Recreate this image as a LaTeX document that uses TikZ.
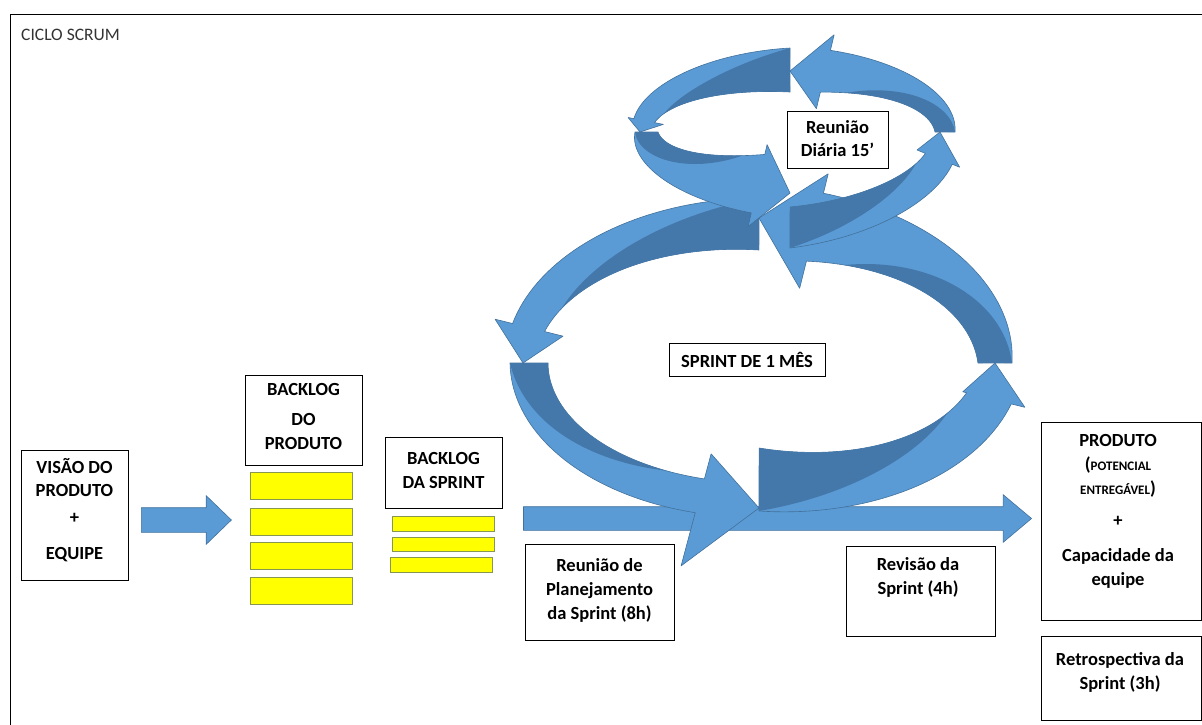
\documentclass[tikz,border=0pt]{standalone}
\usepackage{fontspec}
\setmainfont{Carlito}
\usetikzlibrary{shapes.arrows}
\definecolor{arrlightc}{RGB}{91,155,213}
\definecolor{arrdarkc}{RGB}{69,120,170}
\definecolor{arrline}{RGB}{65,113,156}
\definecolor{yel}{RGB}{255,255,0}
\definecolor{yelline}{RGB}{135,150,80}
\tikzset{
  arrlight/.style={fill=arrlightc, draw=arrline, line width=0.6pt, line join=round},
  arrdark/.style={fill=arrdarkc},
  box/.style={draw=black, line width=0.9pt, fill=white, inner sep=0pt},
  txt/.style={font=\bfseries\fontsize{18.5}{24}\selectfont, align=center, inner sep=0pt},
  ybox/.style={fill=yel, draw=yelline, line width=0.8pt, inner sep=0pt},
  blockarrow/.style={single arrow, fill=arrlightc, draw=arrline, line width=0.6pt,
    inner xsep=0pt, single arrow head indent=0pt}
}
\def\cDT{0.85}
\newcommand\CurvArrow[9]{%
  \def\cTa{#1}\def\cTb{#2}\def\cTc{#3}\def\cOa{#4}\def\cIa{#5}\def\cOb{#6}\def\cIb{#7}\def\cHw{#8}\def\cHc{#9}%
  \filldraw[arrlight]
    plot[domain=0:1,samples=40,variable=\x] ({elx(angt(\x),offo(\x))},{ely(angt(\x),offo(\x))})
    -- ({elx(\cTb,(\cHc)+(\cHw))},{ely(\cTb,(\cHc)+(\cHw))})
    -- ({elx(\cTc,0)},{ely(\cTc,0)})
    -- ({elx(\cTb,(\cHc)-(\cHw))},{ely(\cTb,(\cHc)-(\cHw))})
    -- plot[domain=0:1,samples=40,variable=\x] ({elx(angt(1-\x),offi(1-\x))},{ely(angt(1-\x),offi(1-\x))})
    -- cycle;
  \fill[arrdark]
    plot[domain=0:\cDT,samples=36,variable=\x] ({elx(angt(\x),offi(\x))},{ely(angt(\x),offi(\x))})
    -- plot[domain=0:\cDT,samples=36,variable=\x] ({elx(angt(\cDT-\x),offd(\cDT-\x))},{ely(angt(\cDT-\x),offd(\cDT-\x))})
    -- cycle;
}
\begin{document}
\begin{tikzpicture}[x=1pt,y=-1pt,
  declare function={
    angt(\qt)=(\cTa)+((\cTb)-(\cTa))*\qt;
    offo(\qt)=(\cOa)+((\cOb)-(\cOa))*\qt;
    offi(\qt)=(\cIa)+((\cIb)-(\cIa))*\qt;
    offd(\qt)=offo(\qt)+(offi(\qt)-offo(\qt))*\qt/\cDT;
    elx(\qa,\qo)=\Ecx+(\Erx+\qo)*cos(\qa);
    ely(\qa,\qo)=\Ecy+(\Ery+\qo)*sin(\qa);
  }]
\useasboundingbox (0,0) rectangle (1202,724);
\clip (0,0) rectangle (1202,724);
\fill[white] (0,0) rectangle (1202,724);
\draw[line width=1pt] (10,14) rectangle (1220,740);

\node[anchor=west, inner sep=0pt, text=black!80, font=\fontsize{17.5}{20}\selectfont] (title) at (21,35) {CICLO SCRUM};

% long horizontal arrow
\node[blockarrow, inner ysep=11.5pt, minimum height=508pt, single arrow head extend=12pt,
  single arrow tip angle=80] (longarrow) at (770.5,518.5) {};

% big sprint cycle
\def\Ecx{759}\def\Ecy{363}\def\Erx{236}\def\Ery{145}
\CurvArrow{360}{284}{270}{17}{-17}{30}{-40}{59}{-9}
\CurvArrow{90}{14}{0}{3}{-60}{24}{-22}{32}{6}
\CurvArrow{180}{105}{90}{13}{-25}{10}{-25}{58}{7}
\CurvArrow{270}{194}{180}{20}{-32}{18}{-15}{35}{1}

% small daily cycle
\def\Ecx{790}\def\Ecy{132}\def\Erx{150}\def\Ery{61}
\CurvArrow{360}{283.5}{270}{15}{-5}{23}{-20}{38}{1}
\CurvArrow{90}{22}{0}{55}{14}{25}{-4}{23}{10}
\CurvArrow{270}{191}{180}{23}{-21}{9}{-12}{18}{-3}
\CurvArrow{180}{103}{90}{5}{-18}{22}{-38}{42}{-6}

% left block arrow
\node[blockarrow, inner ysep=12pt, minimum height=90pt, single arrow head extend=12pt,
  single arrow tip angle=88] (arrowvisao) at (180,520) {};

% boxes
\node[box, minimum width=107pt, minimum height=130pt] (visao) at (74.5,515) {};
\node[txt, font=\bfseries\fontsize{18.5}{23}\selectfont] (visaot) at (74.5,510) {VISÃO DO\\PRODUTO\\[4pt]+\\[13pt]EQUIPE};

\node[box, minimum width=117pt, minimum height=90pt] (backprod) at (303.5,420) {};
\node[txt] (backprodt) at (303.5,416) {BACKLOG\\[6pt]DO\\PRODUTO};

\node[ybox, minimum width=102pt, minimum height=27pt] (yp1) at (301,485.5) {};
\node[ybox, minimum width=102pt, minimum height=27pt] (yp2) at (301,521.5) {};
\node[ybox, minimum width=102pt, minimum height=27pt] (yp3) at (301,555.5) {};
\node[ybox, minimum width=102pt, minimum height=27pt] (yp4) at (301,591) {};

\node[box, minimum width=117pt, minimum height=71pt] (backsprint) at (443.5,472.5) {};
\node[txt] (backsprintt) at (443.5,470) {BACKLOG\\DA SPRINT};

\node[ybox, minimum width=102pt, minimum height=15pt] (ys1) at (443,523.5) {};
\node[ybox, minimum width=102pt, minimum height=14pt] (ys2) at (443,544) {};
\node[ybox, minimum width=102pt, minimum height=15pt] (ys3) at (441.5,564.5) {};

\node[box, minimum width=149pt, minimum height=96pt] (planej) at (599.5,592) {};
\node[txt] (planejt) at (599.5,590) {Reunião de\\Planejamento\\da Sprint (8h)};

\node[box, minimum width=149pt, minimum height=90pt] (revisao) at (920.5,591) {};
\node[txt] (revisaot) at (918,577) {Revisão da\\Sprint (4h)};

\node[box, minimum width=160pt, minimum height=198pt] (produto) at (1121,521) {};
\node[txt] (produtot) at (1118,511) {PRODUTO\\({\fontsize{13}{15}\selectfont POTENCIAL}\\{\fontsize{13}{15}\selectfont ENTREGÁVEL})\\[8pt]+\\[11pt]Capacidade da\\equipe};

\node[box, minimum width=160pt, minimum height=84pt] (retro) at (1121,678) {};
\node[txt] (retrot) at (1120,672) {Retrospectiva da\\Sprint (3h)};

\node[box, minimum width=101pt, minimum height=57pt] (diaria) at (837.5,139.5) {};
\node[txt, font=\bfseries\fontsize{18.5}{23}\selectfont] (diariat) at (837.5,139) {Reunião\\Diária 15’};

\node[box, minimum width=156pt, minimum height=33pt] (sprint) at (747,359.5) {};
\node[txt] (sprintt) at (747,360) {SPRINT DE 1 MÊS};
\end{tikzpicture}
\end{document}
